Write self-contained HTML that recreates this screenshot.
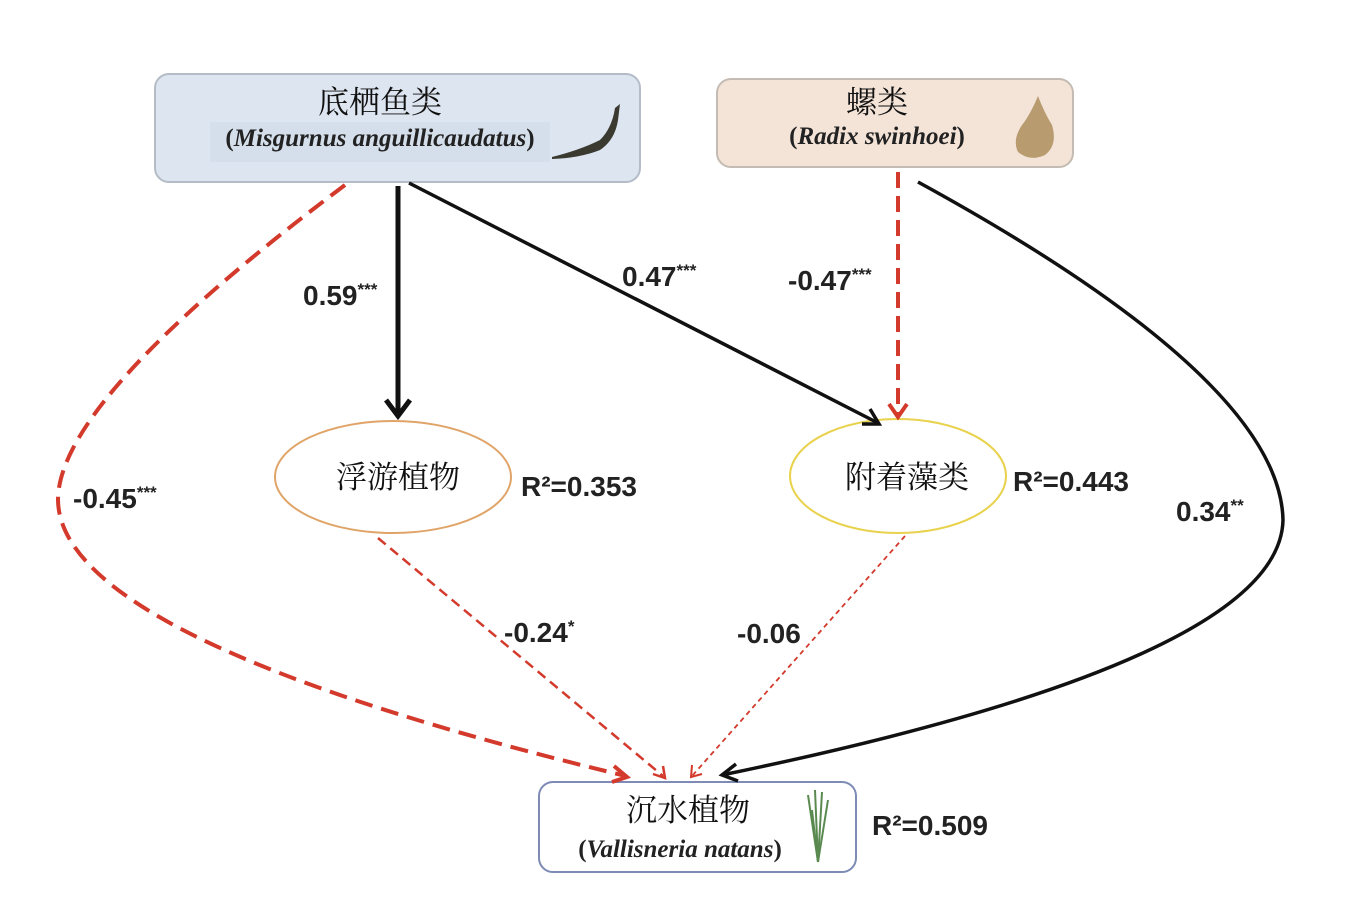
<!DOCTYPE html>
<html><head><meta charset="utf-8"><style>
html,body{margin:0;padding:0;background:#fff;}
svg{display:block;}
.cn{font-family:"Liberation Serif","Noto Serif CJK SC","Noto Sans CJK SC",serif;font-size:31px;fill:#111;}
.it{font-family:"Liberation Serif",serif;font-size:25px;font-weight:bold;font-style:italic;fill:#222;}
.pa{font-family:"Liberation Serif",serif;font-size:25px;font-weight:bold;font-style:normal;fill:#222;}
.lb{font-family:"Liberation Sans",sans-serif;font-size:28px;font-weight:bold;fill:#222;}
.st{font-size:17px;}
</style></head><body>
<svg width="1347" height="899" viewBox="0 0 1347 899" xmlns="http://www.w3.org/2000/svg">
<rect x="155" y="74" width="485" height="108" rx="14" fill="#dde5f0" stroke="#b4bcc8" stroke-width="2"/>
<rect x="210" y="122" width="340" height="40" fill="#d4dfeb"/>
<rect x="717" y="79" width="356" height="88" rx="14" fill="#f4e4d8" stroke="#c4bcb4" stroke-width="2"/>
<rect x="539" y="782" width="317" height="90" rx="14" fill="#fff" stroke="#7d8bb5" stroke-width="2"/>
<text x="380" y="113" class="cn" text-anchor="middle">底栖鱼类</text>
<text x="380" y="146" class="it" text-anchor="middle"><tspan class="pa">(</tspan>Misgurnus anguillicaudatus<tspan class="pa">)</tspan></text>
<text x="877" y="113" class="cn" text-anchor="middle">螺类</text>
<text x="877" y="144" class="it" text-anchor="middle"><tspan class="pa">(</tspan>Radix swinhoei<tspan class="pa">)</tspan></text>
<text x="688" y="821" class="cn" text-anchor="middle">沉水植物</text>
<text x="680" y="857" class="it" text-anchor="middle"><tspan class="pa">(</tspan>Vallisneria natans<tspan class="pa">)</tspan></text>
<path d="M552 157 Q580 150 600 140 Q612 128 615 108 L620 104 L618 120 Q615 140 600 150 Q580 158 552 159 Z" fill="#3a3a30"/>
<path d="M1038 96 Q1030 115 1022 125 Q1012 140 1018 152 Q1030 162 1045 155 Q1058 145 1052 125 Q1044 112 1038 96 Z" fill="#b89c70"/>
<g stroke="#5a8a50" stroke-width="2" fill="none">
<path d="M818 862 L808 795"/><path d="M818 862 L815 790"/><path d="M818 862 L822 792"/><path d="M818 862 L828 800"/><path d="M818 862 L812 810"/>
</g>
<ellipse cx="393" cy="477" rx="118" ry="56" fill="#fff" stroke="#e0a468" stroke-width="2"/>
<ellipse cx="898" cy="476" rx="108" ry="57" fill="#fff" stroke="#e8d24e" stroke-width="2"/>
<text x="398" y="488" class="cn" text-anchor="middle">浮游植物</text>
<text x="907" y="488" class="cn" text-anchor="middle">附着藻类</text>
<text x="521" y="496" class="lb">R²=0.353</text>
<text x="1013" y="491" class="lb">R²=0.443</text>
<text x="872" y="835" class="lb">R²=0.509</text>
<g fill="none" stroke-linecap="butt">
<line x1="398" y1="186" x2="398" y2="414" stroke="#111" stroke-width="5"/>
<polyline points="386,400 398,416 410,400" stroke="#111" stroke-width="5"/>
<line x1="409" y1="183" x2="878" y2="423" stroke="#111" stroke-width="3.5"/>
<polyline points="862,424 879,424 870,409" stroke="#111" stroke-width="3.5"/>
<line x1="898" y1="172" x2="898" y2="414" stroke="#d33a2c" stroke-width="4" stroke-dasharray="16,8"/>
<polyline points="889,404 898,417 907,404" stroke="#d33a2c" stroke-width="4"/>
<path d="M918 182 Q1280 380 1283 520 Q1280 660 722 775" stroke="#111" stroke-width="3.5"/>
<polyline points="736,764 722,775 738,781" stroke="#111" stroke-width="3.5"/>
<path d="M345 185 Q58 400 58 500 Q60 640 626 776" stroke="#d33a2c" stroke-width="4" stroke-dasharray="18,9"/>
<polyline points="614,766 627,777 612,782" stroke="#d33a2c" stroke-width="4"/>
<line x1="378" y1="538" x2="663" y2="776" stroke="#d33a2c" stroke-width="2.5" stroke-dasharray="10,6"/>
<polyline points="653,774 665,778 663,766" stroke="#d33a2c" stroke-width="2.5"/>
<line x1="905" y1="536" x2="692" y2="776" stroke="#d33a2c" stroke-width="1.8" stroke-dasharray="5,4"/>
<polyline points="692,765 691,777 702,774" stroke="#d33a2c" stroke-width="2"/>
</g>
<text x="303" y="305" class="lb">0.59<tspan class="st" dy="-10">***</tspan></text>
<text x="622" y="286" class="lb">0.47<tspan class="st" dy="-10">***</tspan></text>
<text x="788" y="290" class="lb">-0.47<tspan class="st" dy="-10">***</tspan></text>
<text x="73" y="508" class="lb">-0.45<tspan class="st" dy="-10">***</tspan></text>
<text x="1176" y="521" class="lb">0.34<tspan class="st" dy="-10">**</tspan></text>
<text x="504" y="642" class="lb">-0.24<tspan class="st" dy="-10">*</tspan></text>
<text x="737" y="643" class="lb">-0.06</text>
</svg>
</body></html>
